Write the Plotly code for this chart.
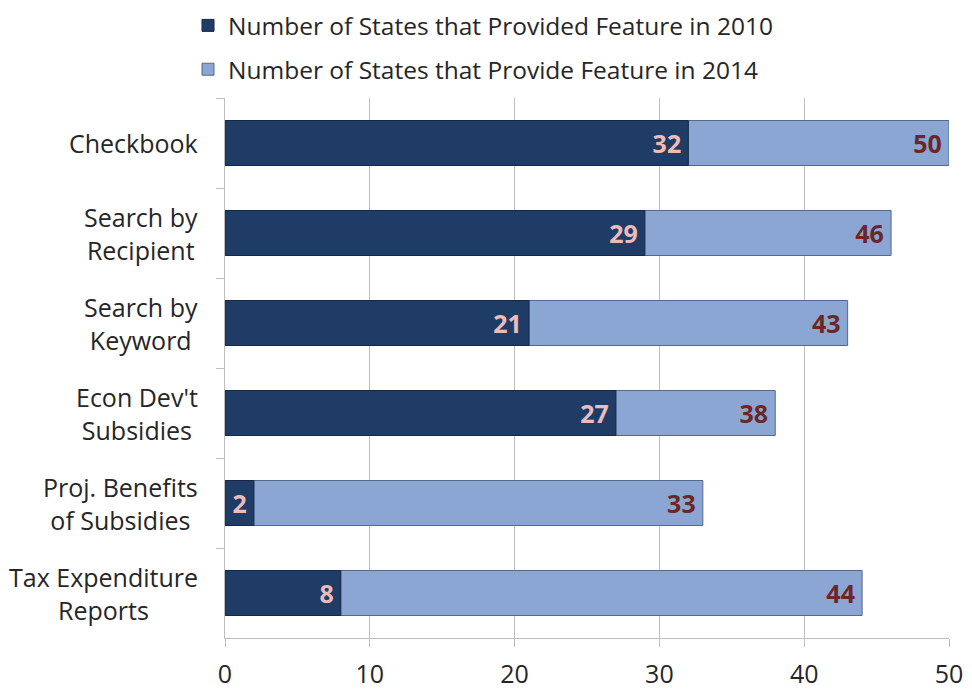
import plotly.graph_objects as go

categories = ["Checkbook", "Search by Recipient", "Search by Keyword", "Econ Dev't Subsidies",
              "Proj. Benefits of Subsidies", "Tax Expenditure Reports"]
category_labels = ["Checkbook", "Search by<br>Recipient", "Search by<br>Keyword", "Econ Dev't<br>Subsidies",
                   "Proj. Benefits<br>of Subsidies", "Tax Expenditure<br>Reports"]
values_2010 = [32, 29, 21, 27, 2, 8]
values_2014 = [50, 46, 43, 38, 33, 44]
series_names = ["Number of States that Provided Feature in 2010",
                "Number of States that Provide Feature in 2014"]
x_ticks = [0, 10, 20, 30, 40, 50]

FONT = "Open Sans"
PAD = "\u2009"

fig = go.Figure()
fig.add_trace(go.Bar(
    y=categories, x=values_2014, orientation="h", name=series_names[1],
    marker=dict(color="#8BA6D3", line=dict(color="#55698C", width=1)),
    text=[str(v) + PAD for v in values_2014], textposition="inside", insidetextanchor="end",
    textfont=dict(family=FONT, size=25, color="#6B2727", weight="bold"),
    constraintext="none", width=0.5, legendrank=2, legendgroup="b",
))
fig.add_trace(go.Bar(
    y=categories, x=values_2010, orientation="h", name=series_names[0],
    marker=dict(color="#1F3C66", line=dict(color="#14284A", width=1)),
    text=[str(v) + PAD for v in values_2010], textposition="inside", insidetextanchor="end",
    textfont=dict(family=FONT, size=25, color="#EBBDBA", weight="bold"),
    constraintext="none", width=0.5, legendrank=1, legendgroup="a",
))

for cat, lab in zip(categories, category_labels):
    fig.add_annotation(x=0, xref="paper", y=cat, yref="y", text=lab, showarrow=False,
                       xanchor="right", yanchor="middle", align="center", xshift=-25,
                       font=dict(family=FONT, size=25, color="#262626"))

fig.update_layout(
    width=972, height=690,
    barmode="overlay",
    paper_bgcolor="white", plot_bgcolor="white",
    margin=dict(l=217, r=31, t=90, b=60, autoexpand=False),
    font=dict(family=FONT, color="#262626"),
    showlegend=True,
    legend=dict(orientation="v", x=-0.0511, xanchor="left", y=1.176, yanchor="top",
                font=dict(family=FONT, size=24.5, color="#262626"), tracegroupgap=9,
                bgcolor="rgba(0,0,0,0)"),
    xaxis=dict(range=[0, 50], tickvals=x_ticks, showgrid=True, gridcolor="#BEBEBE", gridwidth=1,
               showline=True, linecolor="#BEBEBE", linewidth=1, ticks="outside", ticklen=8,
               tickcolor="#BEBEBE", tickfont=dict(family=FONT, size=25, color="#262626"),
               ticklabelstandoff=6, zeroline=False, fixedrange=True, automargin=False),
    yaxis=dict(autorange="reversed", showticklabels=False, showline=True, linecolor="#BEBEBE",
               linewidth=1, ticks="outside", tickson="boundaries", ticklen=8, tickcolor="#BEBEBE",
               showgrid=False, zeroline=False, automargin=False),
)

fig.write_html("out.html")
